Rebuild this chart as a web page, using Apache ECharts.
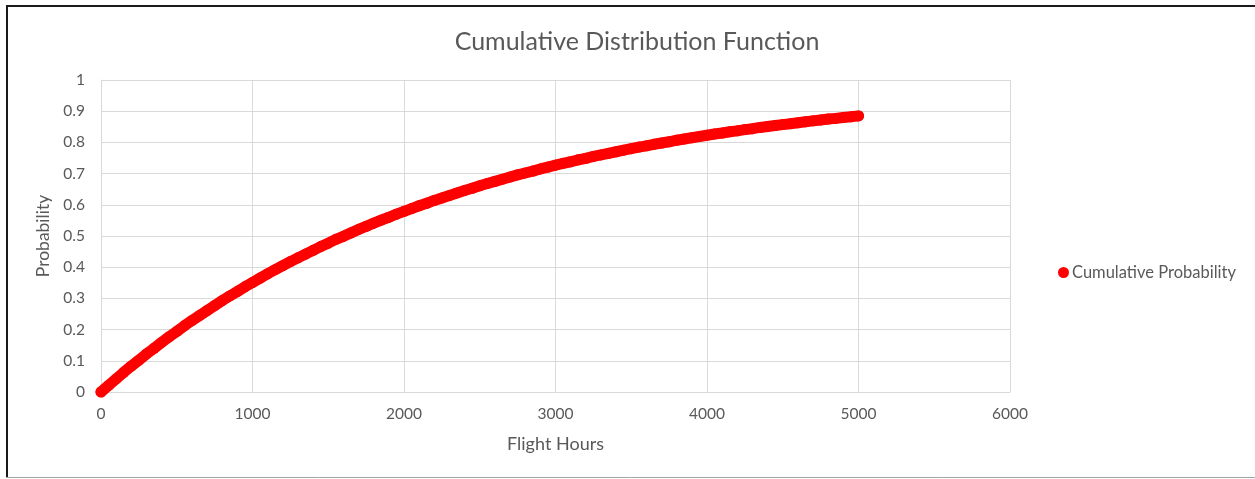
<!DOCTYPE html>
<html>
<head>
<meta charset="utf-8">
<title>Cumulative Distribution Function</title>
<script src="https://cdn.jsdelivr.net/npm/echarts@6/dist/echarts.min.js"></script>
<style>
  html, body { margin: 0; padding: 0; background: #ffffff; }
  #chart { width: 1255px; height: 479px; }
</style>
</head>
<body>
<div id="chart"></div>
<script>
// Flight hours sampled along the curve
const hours = [
  0, 50, 100, 150, 200, 250, 300, 350, 400, 450,
  500, 550, 600, 650, 700, 750, 800, 850, 900, 950,
  1000, 1050, 1100, 1150, 1200, 1250, 1300, 1350, 1400, 1450,
  1500, 1550, 1600, 1650, 1700, 1750, 1800, 1850, 1900, 1950,
  2000, 2050, 2100, 2150, 2200, 2250, 2300, 2350, 2400, 2450,
  2500, 2550, 2600, 2650, 2700, 2750, 2800, 2850, 2900, 2950,
  3000, 3050, 3100, 3150, 3200, 3250, 3300, 3350, 3400, 3450,
  3500, 3550, 3600, 3650, 3700, 3750, 3800, 3850, 3900, 3950,
  4000, 4050, 4100, 4150, 4200, 4250, 4300, 4350, 4400, 4450,
  4500, 4550, 4600, 4650, 4700, 4750, 4800, 4850, 4900, 4950,
  5000
];

// Cumulative probability at each flight-hour sample
const probability = [
  0.000, 0.021, 0.042, 0.063, 0.083, 0.102, 0.122, 0.140, 0.159, 0.177,
  0.194, 0.212, 0.229, 0.245, 0.261, 0.277, 0.293, 0.308, 0.322, 0.337,
  0.351, 0.365, 0.379, 0.392, 0.405, 0.418, 0.430, 0.442, 0.454, 0.466,
  0.477, 0.489, 0.499, 0.510, 0.521, 0.531, 0.541, 0.551, 0.560, 0.570,
  0.579, 0.588, 0.597, 0.605, 0.614, 0.622, 0.630, 0.638, 0.646, 0.653,
  0.661, 0.668, 0.675, 0.682, 0.689, 0.696, 0.702, 0.708, 0.715, 0.721,
  0.727, 0.733, 0.738, 0.744, 0.749, 0.755, 0.760, 0.765, 0.770, 0.775,
  0.780, 0.785, 0.789, 0.794, 0.798, 0.802, 0.807, 0.811, 0.815, 0.819,
  0.823, 0.827, 0.830, 0.834, 0.837, 0.841, 0.844, 0.848, 0.851, 0.854,
  0.857, 0.860, 0.863, 0.866, 0.869, 0.872, 0.875, 0.877, 0.880, 0.882,
  0.885
];

const seriesName = 'Cumulative Probability';
const chartTitle = 'Cumulative Distribution Function';
const xAxisTitle = 'Flight Hours';
const yAxisTitle = 'Probability';

const points = hours.map((h, i) => [h, probability[i]]);

const FONT = 'Lato, "Open Sans", sans-serif';
const TEXT = '#595959';
const GRID = '#d9d9d9';
const RED = '#ff0000';

const chart = echarts.init(document.getElementById('chart'), null, { renderer: 'canvas' });

chart.setOption({
  animation: false,
  backgroundColor: '#ffffff',
  title: {
    text: chartTitle,
    left: 632,
    textAlign: 'center',
    top: 24,
    textStyle: { fontFamily: FONT, fontSize: 25, fontWeight: 'normal', color: TEXT }
  },
  legend: {
    left: 1053,
    top: 259,
    orient: 'vertical',
    icon: 'circle',
    itemWidth: 11,
    itemHeight: 11,
    itemGap: 4,
    textStyle: { fontFamily: FONT, fontSize: 16.5, color: TEXT, padding: [0, 0, 0, -2] },
    data: [{ name: seriesName, itemStyle: { color: RED, opacity: 1 } }]
  },
  grid: { left: 101, right: 245, top: 80, bottom: 87, containLabel: false },
  xAxis: {
    type: 'value',
    min: 0,
    max: 6000,
    interval: 1000,
    name: xAxisTitle,
    nameLocation: 'middle',
    nameGap: 43,
    nameTextStyle: { fontFamily: FONT, fontSize: 18, color: TEXT },
    axisLine: { show: true, lineStyle: { color: GRID, width: 1 } },
    axisTick: { show: false },
    axisLabel: { fontFamily: FONT, fontSize: 15.5, color: TEXT, margin: 14, formatter: v => String(v) },
    splitLine: { show: true, lineStyle: { color: GRID, width: 1 } }
  },
  yAxis: {
    type: 'value',
    min: 0,
    max: 1,
    interval: 0.1,
    name: yAxisTitle,
    nameLocation: 'middle',
    nameGap: 47,
    nameRotate: 90,
    nameTextStyle: { fontFamily: FONT, fontSize: 17.5, color: TEXT },
    axisLine: { show: true, lineStyle: { color: GRID, width: 1 } },
    axisTick: { show: false },
    axisLabel: {
      fontFamily: FONT, fontSize: 15.5, color: TEXT, margin: 16,
      formatter: v => String(Math.round(v * 10) / 10)
    },
    splitLine: { show: true, lineStyle: { color: GRID, width: 1 } }
  },
  graphic: [
    // frame around the chart area
    { type: 'line', silent: true, shape: { x1: 6, y1: 6, x2: 1255, y2: 6 }, style: { stroke: '#1a1a1a', lineWidth: 2 } },
    { type: 'line', silent: true, shape: { x1: 7, y1: 5, x2: 7, y2: 478 }, style: { stroke: '#1a1a1a', lineWidth: 2 } },
    { type: 'line', silent: true, shape: { x1: 6, y1: 477.5, x2: 1255, y2: 477.5 }, style: { stroke: '#a6a6a6', lineWidth: 1 } }
  ],
  series: [{
    // densely sampled markers drawn as a continuous band with a dot at every sample
    name: seriesName,
    type: 'line',
    data: points,
    symbol: 'circle',
    symbolSize: 11,
    showSymbol: true,
    showAllSymbol: true,
    lineStyle: { color: RED, width: 11, cap: 'round', join: 'round' },
    itemStyle: { color: RED, borderColor: RED, borderWidth: 0, opacity: 1 }
  }]
});
</script>
</body>
</html>
